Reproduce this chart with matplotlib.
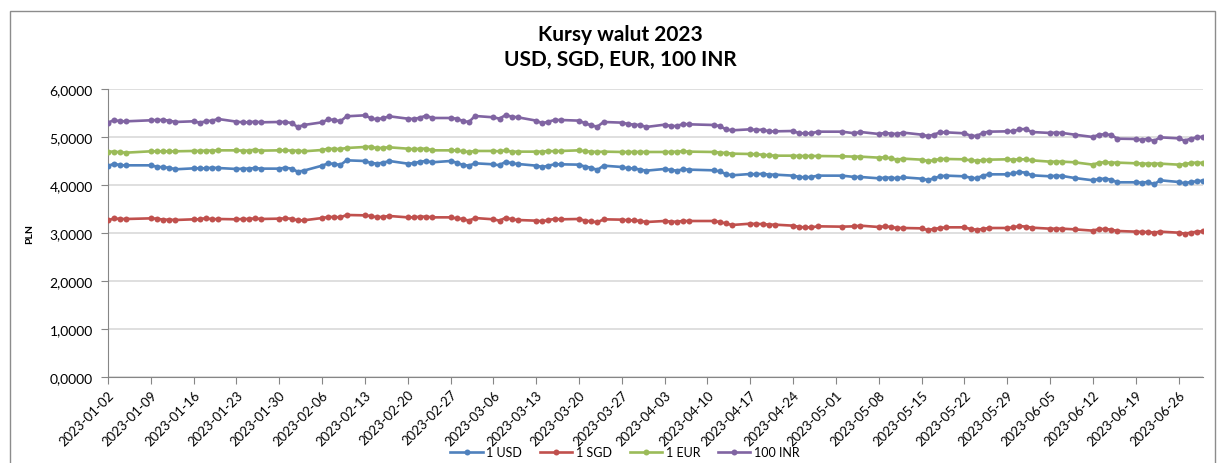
import matplotlib
matplotlib.use("Agg")
import matplotlib.pyplot as plt
import matplotlib.dates as mdates
from matplotlib.ticker import FuncFormatter, MultipleLocator
from matplotlib.patches import Rectangle
import pandas as pd

plt.rcParams['font.family'] = ['Lato', 'DejaVu Sans']

# --- data -------------------------------------------------------------
holidays = ["2023-01-06", "2023-04-10", "2023-05-01", "2023-05-03", "2023-06-08"]
dates = pd.bdate_range("2023-01-02", "2023-06-30", freq="C", holidays=holidays)

usd = [4.396, 4.445, 4.410, 4.410, 4.410, 4.382, 4.368, 4.361, 4.327, 4.347, 4.347, 4.347, 4.361, 4.354, 4.334, 4.341, 4.341, 4.354, 4.341, 4.341, 4.361,
       4.341, 4.278, 4.299, 4.403, 4.452, 4.438, 4.417, 4.514, 4.500, 4.459, 4.445, 4.466, 4.500, 4.445, 4.452, 4.486, 4.500, 4.473, 4.500, 4.466,
       4.417, 4.403, 4.452, 4.431, 4.410, 4.486, 4.452, 4.438, 4.403, 4.375, 4.403, 4.431, 4.431, 4.424, 4.382, 4.361, 4.313, 4.403, 4.375, 4.347, 4.347, 4.320, 4.299,
       4.334, 4.313, 4.299, 4.327, 4.320, 4.306, 4.285, 4.229, 4.202, 4.229, 4.222, 4.236, 4.216, 4.216, 4.195, 4.167, 4.160, 4.167, 4.195,
       4.195, 4.167, 4.167, 4.139, 4.153, 4.153, 4.139, 4.160, 4.132, 4.104, 4.139, 4.181, 4.195, 4.181, 4.153, 4.139, 4.195, 4.222, 4.222, 4.243, 4.271,
       4.257, 4.202, 4.181, 4.195, 4.188, 4.146, 4.098, 4.125, 4.132, 4.111, 4.056, 4.056, 4.049, 4.063, 4.014, 4.098, 4.063, 4.035, 4.063, 4.077, 4.091]

sgd = [3.264, 3.305, 3.292, 3.292, 3.305, 3.299, 3.278, 3.278, 3.271, 3.285, 3.285, 3.312, 3.285, 3.292, 3.285, 3.292, 3.292, 3.305, 3.292, 3.299, 3.305,
       3.299, 3.264, 3.264, 3.312, 3.333, 3.333, 3.326, 3.375, 3.368, 3.354, 3.326, 3.340, 3.354, 3.326, 3.326, 3.340, 3.340, 3.326, 3.326, 3.305,
       3.292, 3.257, 3.312, 3.285, 3.257, 3.319, 3.285, 3.271, 3.257, 3.243, 3.271, 3.292, 3.285, 3.292, 3.257, 3.243, 3.222, 3.285, 3.278, 3.264, 3.264, 3.250, 3.229,
       3.250, 3.236, 3.236, 3.250, 3.250, 3.250, 3.229, 3.201, 3.167, 3.194, 3.187, 3.187, 3.174, 3.174, 3.153, 3.125, 3.118, 3.118, 3.139,
       3.132, 3.139, 3.153, 3.125, 3.139, 3.125, 3.104, 3.104, 3.097, 3.062, 3.083, 3.104, 3.118, 3.118, 3.083, 3.069, 3.083, 3.104, 3.104, 3.118, 3.146,
       3.132, 3.111, 3.090, 3.090, 3.090, 3.076, 3.049, 3.083, 3.083, 3.069, 3.042, 3.028, 3.021, 3.021, 3.007, 3.028, 3.007, 2.986, 3.007, 3.028, 3.035]

eur = [4.695, 4.695, 4.681, 4.674, 4.702, 4.702, 4.702, 4.702, 4.702, 4.709, 4.709, 4.716, 4.716, 4.722, 4.722, 4.716, 4.716, 4.736, 4.716, 4.722, 4.722,
       4.716, 4.716, 4.702, 4.729, 4.757, 4.750, 4.750, 4.771, 4.792, 4.799, 4.764, 4.778, 4.785, 4.757, 4.743, 4.757, 4.757, 4.722, 4.722, 4.722,
       4.702, 4.688, 4.709, 4.709, 4.702, 4.722, 4.695, 4.695, 4.695, 4.695, 4.709, 4.702, 4.709, 4.722, 4.702, 4.695, 4.688, 4.695, 4.688, 4.688, 4.688, 4.688, 4.688,
       4.688, 4.688, 4.695, 4.702, 4.695, 4.688, 4.674, 4.667, 4.653, 4.646, 4.639, 4.632, 4.618, 4.611, 4.611, 4.604, 4.604, 4.604, 4.604,
       4.598, 4.591, 4.591, 4.570, 4.577, 4.556, 4.528, 4.549, 4.528, 4.500, 4.514, 4.542, 4.542, 4.535, 4.514, 4.507, 4.514, 4.528, 4.535, 4.528, 4.535,
       4.535, 4.514, 4.486, 4.486, 4.486, 4.473, 4.424, 4.466, 4.473, 4.466, 4.466, 4.452, 4.445, 4.445, 4.445, 4.445, 4.424, 4.431, 4.459, 4.466, 4.459]

inr100 = [5.299, 5.354, 5.327, 5.327, 5.348, 5.354, 5.354, 5.341, 5.313, 5.327, 5.299, 5.327, 5.341, 5.375, 5.320, 5.306, 5.306, 5.320, 5.306, 5.313, 5.313,
          5.292, 5.209, 5.250, 5.306, 5.368, 5.354, 5.327, 5.431, 5.452, 5.389, 5.368, 5.396, 5.431, 5.382, 5.375, 5.403, 5.445, 5.396, 5.396, 5.382,
          5.334, 5.313, 5.438, 5.410, 5.382, 5.459, 5.424, 5.410, 5.341, 5.285, 5.320, 5.354, 5.354, 5.341, 5.285, 5.243, 5.215, 5.313, 5.299, 5.271, 5.257, 5.250, 5.209,
          5.257, 5.229, 5.229, 5.271, 5.264, 5.250, 5.229, 5.160, 5.139, 5.160, 5.146, 5.153, 5.118, 5.118, 5.125, 5.077, 5.077, 5.077, 5.111,
          5.111, 5.077, 5.104, 5.063, 5.084, 5.070, 5.063, 5.091, 5.049, 5.021, 5.049, 5.097, 5.097, 5.077, 5.028, 5.021, 5.084, 5.111, 5.118, 5.125, 5.160,
          5.167, 5.104, 5.084, 5.091, 5.084, 5.049, 5.000, 5.049, 5.056, 5.042, 4.965, 4.959, 4.938, 4.965, 4.917, 4.993, 4.972, 4.924, 4.965, 4.993, 5.007]

series_labels = ["1 USD", "1 SGD", "1 EUR", "100 INR"]
series_colors = ["#4F81BD", "#C0504D", "#9BBB59", "#8064A2"]
title_lines = ["Kursy walut 2023", "USD, SGD, EUR, 100 INR"]
y_label = "PLN"

# --- figure -----------------------------------------------------------
W, H = 1220, 464
fig = plt.figure(figsize=(W / 100, H / 100), dpi=100)
fig.patch.set_facecolor("white")

# outer chart border
fig.add_artist(Rectangle((10 / W, -0.02), (1215 - 10) / W, 1 - 12 / H + 0.02,
                         transform=fig.transFigure, fill=False,
                         edgecolor="#8c8c8c", linewidth=1.0))

left, right, top, bottom = 108, 1203, 90, 378
ax = fig.add_axes([left / W, 1 - bottom / H, (right - left) / W, (bottom - top) / H])

for vals, lab, col in zip([usd, sgd, eur, inr100], series_labels, series_colors):
    ax.plot(dates, vals, color=col, linewidth=1.9, marker="o", markersize=4.3,
            markeredgewidth=0, label=lab, zorder=3)

ax.set_ylim(0, 6)
ax.yaxis.set_major_locator(MultipleLocator(1))
ax.yaxis.set_major_formatter(FuncFormatter(lambda v, p: f"{v:.4f}".replace(".", ",")))
ax.set_xlim(mdates.date2num(pd.Timestamp("2023-01-02")), mdates.date2num(pd.Timestamp("2023-06-30")))
ticks = pd.date_range("2023-01-02", "2023-06-30", freq="7D")
ax.set_xticks(ticks)
ax.set_xticklabels([t.strftime("%Y-%m-%d") for t in ticks], rotation=45,
                   ha="right", rotation_mode="anchor", fontsize=9.5)
ax.tick_params(axis="y", labelsize=10, length=5, color="#868686", pad=6)
ax.tick_params(axis="x", length=5, color="#868686", pad=3)

ax.grid(axis="y", color="#d9d9d9", linewidth=1.2, zorder=0)
ax.set_axisbelow(True)
for s in ["top", "right"]:
    ax.spines[s].set_visible(False)
ax.spines["left"].set_color("#868686")
ax.spines["bottom"].set_color("#868686")

fig.text(30 / W, 1 - 234 / H, y_label, rotation=90, ha="center", va="center",
         fontsize=7.5, fontweight="bold")

fig.text(620 / W, 1 - 35 / H, title_lines[0], ha="center", va="center",
         fontsize=15, fontweight="bold")
fig.text(620 / W, 1 - 60 / H, title_lines[1], ha="center", va="center",
         fontsize=15, fontweight="bold")

fig.legend(loc="center", bbox_to_anchor=(625 / W, 1 - 453 / H), ncol=4,
           frameon=False, fontsize=9, handlelength=2.6, columnspacing=1.4,
           handletextpad=0.3, borderaxespad=0)

fig.savefig("out.png", dpi=100, facecolor="white")
